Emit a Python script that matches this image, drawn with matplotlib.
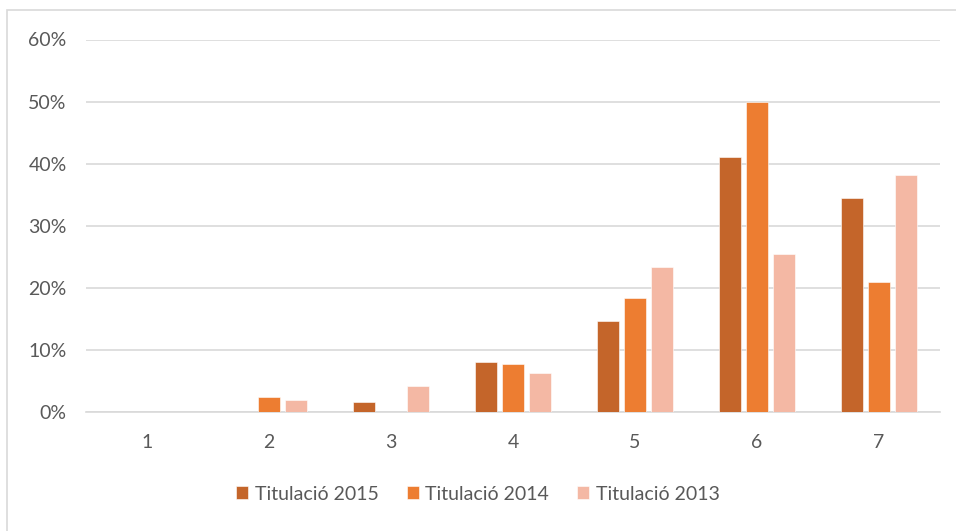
import matplotlib.pyplot as plt
from matplotlib.patches import Rectangle
from matplotlib.ticker import PercentFormatter
import numpy as np

categories = ['1', '2', '3', '4', '5', '6', '7']
series_names = ['Titulació 2015', 'Titulació 2014', 'Titulació 2013']
vals_2015 = [0.0, 0.0, 1.55, 8.1, 14.7, 41.0, 34.4]
vals_2014 = [0.0, 2.4, 0.0, 7.8, 18.3, 50.0, 21.0]
vals_2013 = [0.0, 2.0, 4.2, 6.3, 23.3, 25.5, 38.2]
colors = ['#C4652A', '#ED7D31', '#F4B8A4']

plt.rcParams['font.family'] = ['Lato', 'DejaVu Sans']
text_col = '#595959'
grid_col = '#D9D9D9'

fig = plt.figure(figsize=(9.56, 5.31), dpi=100)
ax = fig.add_axes([86 / 956, 1 - 412 / 531, 854 / 956, (412 - 39.5) / 531])

x = np.arange(len(categories))
width = 0.18
step = 0.222
for i, (vals, name) in enumerate(zip([vals_2015, vals_2014, vals_2013], series_names)):
    ax.bar(x + (i - 1) * step, vals, width, color=colors[i], label=name,
           edgecolor='white', linewidth=0.4, zorder=3)

ax.set_xlim(-0.5, len(categories) - 0.5)
ax.set_ylim(0, 60)
ax.set_yticks(range(0, 61, 10))
ax.yaxis.set_major_formatter(PercentFormatter(decimals=0))
ax.set_xticks(x)
ax.set_xticklabels(categories)
ax.tick_params(length=0, labelsize=14, colors=text_col)
ax.tick_params(axis='y', pad=14)
ax.tick_params(axis='x', pad=16)
ax.grid(axis='y', color=grid_col, linewidth=1.2, zorder=0)
for s in ['top', 'right', 'left']:
    ax.spines[s].set_visible(False)
ax.spines['bottom'].set_color(grid_col)
ax.spines['bottom'].set_linewidth(1.2)

# chart area border
fig.patches.append(Rectangle((7 / 956, -0.05), 1.2, 1 - 10 / 531 + 0.05,
                             transform=fig.transFigure, fill=False,
                             edgecolor=grid_col, linewidth=1.2))

leg = fig.legend(loc='center', bbox_to_anchor=(0.5, 1 - 494 / 531), ncol=3,
                 frameon=False, fontsize=14, handlelength=0.6, handleheight=0.6,
                 handletextpad=0.35, columnspacing=1.45)
for t in leg.get_texts():
    t.set_color(text_col)

fig.savefig('out.png', dpi=100)
